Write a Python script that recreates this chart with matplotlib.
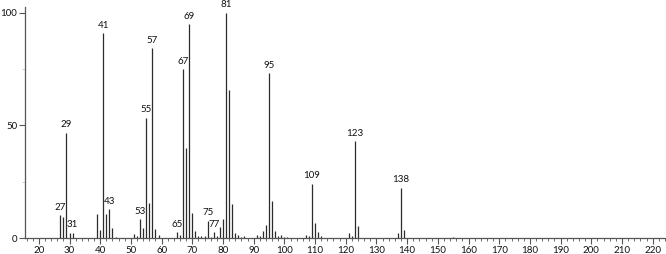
"""
Mass spectrum (EI) stick plot
"""
import matplotlib
matplotlib.use('Agg')
import matplotlib.pyplot as plt
from matplotlib.ticker import MultipleLocator

# ── Data ──────────────────────────────────────────────────────────────────────
mz = [27, 28, 29, 30, 31, 39, 40, 41, 42, 43, 44, 45,
      51, 52, 53, 54, 55, 56, 57, 58, 59,
      65, 66, 67, 68, 69, 70, 71, 72, 73, 74, 75, 76, 77, 78, 79, 80,
      81, 82, 83, 84, 85, 86, 87,
      91, 92, 93, 94, 95, 96, 97, 98, 99, 100, 101,
      107, 108, 109, 110, 111, 112,
      121, 122, 123, 124,
      137, 138, 139, 155]
intensity = [10.0, 9.3, 46.7, 2.2, 2.3, 10.6, 3.5, 90.8, 10.6, 12.9, 4.4, 0.5,
             1.6, 1.0, 8.4, 4.6, 53.3, 15.4, 84.1, 3.8, 1.5,
             2.5, 1.5, 75.0, 40.0, 94.8, 11.2, 3.0, 1.0, 1.0, 1.0, 7.7, 0.5, 2.5, 1.0, 4.7, 8.4,
             100.0, 65.6, 15.1, 2.1, 1.5, 0.5, 0.8,
             1.5, 0.8, 3.1, 5.8, 73.0, 16.4, 3.0, 1.0, 1.5, 0.5, 0.5,
             1.5, 1.0, 24.1, 6.8, 2.5, 0.8,
             2.0, 0.7, 43.0, 5.3,
             2.0, 22.3, 3.6, 0.5]

labelled = [27, 29, 31, 41, 43, 53, 55, 57, 65, 67, 69, 75, 77, 81, 95, 109, 123, 138]

x_ticks = list(range(20, 221, 10))
y_ticks = [0, 50, 100]

# ── Plot ──────────────────────────────────────────────────────────────────────
plt.rcParams['font.family'] = ['Lato', 'DejaVu Sans']

fig = plt.figure(figsize=(6.66, 2.54), dpi=100)
ax = fig.add_axes([25 / 666, 16 / 254, 640 / 666, 231 / 254])

ax.vlines(mz, 0, intensity, color='#2b2b2b', linewidth=0.9)

heights = dict(zip(mz, intensity))
for m in labelled:
    ax.text(m, heights[m] + 1.5, str(m), ha='center', va='bottom',
            fontsize=7, color='#111111')

ax.set_xlim(15.5, 224)
ax.set_ylim(0, 102.5)

ax.set_xticks(x_ticks)
ax.set_yticks(y_ticks)
ax.set_yticklabels([str(v) for v in y_ticks])
ax.xaxis.set_minor_locator(MultipleLocator(2))
ax.yaxis.set_minor_locator(MultipleLocator(25))

for side in ('top', 'right'):
    ax.spines[side].set_visible(False)
for side in ('left', 'bottom'):
    ax.spines[side].set_color('#555555')
    ax.spines[side].set_linewidth(0.9)

ax.tick_params(axis='both', which='major', length=4, width=0.8, color='#555555',
               labelsize=7, pad=1.5, labelcolor='#111111')
ax.tick_params(axis='x', which='minor', length=2, width=0.6, color='#555555')
ax.tick_params(axis='y', which='minor', length=2, width=0.5, color='#bbbbbb')

fig.savefig('out.png', dpi=100)
plt.close(fig)
